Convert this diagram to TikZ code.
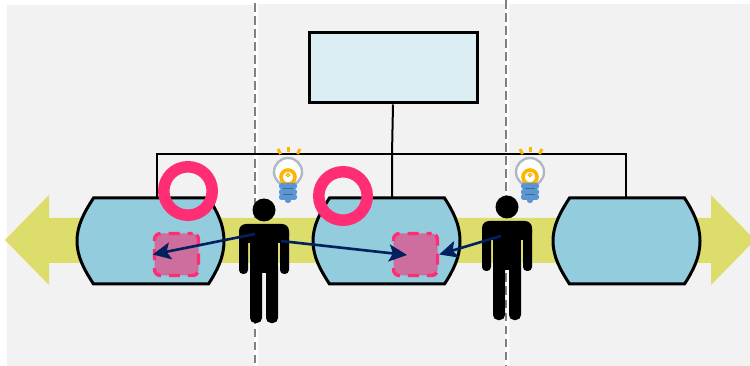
\documentclass[tikz,border=0pt]{standalone}
\usepackage{xcolor}
\usetikzlibrary{arrows.meta, positioning}
\definecolor{panelgray}{RGB}{242,242,242}
\definecolor{bandyellow}{RGB}{221,221,107}
\definecolor{stageblue}{RGB}{146,204,221}
\definecolor{rolepale}{RGB}{218,238,243}
\definecolor{ringpink}{RGB}{255,45,115}
\definecolor{taskpink}{RGB}{205,110,158}
\definecolor{navy}{RGB}{0,32,96}
\definecolor{bulbgold}{RGB}{255,180,0}
\definecolor{bulbblue}{RGB}{91,150,210}
\definecolor{bulbgray}{RGB}{175,185,195}
% stage outline: centre x, with a hidden node for the connectors
\newcommand{\stage}[2]{
  \draw[stageline] (#2-73.5,241) .. controls (#2-73.5,225) and (#2-66,212) .. (#2-57,198)
    -- (#2+58,198) .. controls (#2+67,212) and (#2+73.5,225) .. (#2+73.5,241)
    .. controls (#2+73.5,257) and (#2+67,270) .. (#2+58,284)
    -- (#2-57,284) .. controls (#2-66,270) and (#2-73.5,257) .. (#2-73.5,241) -- cycle;
  \node[hidden, minimum width=147pt, minimum height=86pt] (#1) at (#2,241) {};
}
\tikzset{
  person/.pic={
    \fill (0,-1) circle (11.5);
    \fill[rounded corners=7pt] (-25,13) rectangle (25,32);
    \fill[rounded corners=4pt] (-25,18) rectangle (-16,63);
    \fill[rounded corners=4pt] (16,18) rectangle (25,63);
    \fill (-14,14) rectangle (14,62);
    \fill[rounded corners=5pt] (-14,50) rectangle (-2,112);
    \fill[rounded corners=5pt] (2,50) rectangle (14,112);
  },
  bulb/.pic={
    \draw[bulbgray, fill=white, line width=2.4pt] (0,0) circle (14);
    \draw[bulbgold, line width=3.6pt] (0,5) circle (7);
    \draw[bulbgold, line width=1.2pt] (0,3) circle (1.8);
    \foreach \yy in {14,20,25}
      \fill[bulbblue, rounded corners=2.5pt] (-9,\yy-3) rectangle (9,\yy+3);
    \fill[bulbblue] (0,28) circle (3.2);
    \foreach \yy in {16,22}
      \draw[bulbblue!70!black, line width=0.8pt] (-5,\yy) -- (5,\yy);
    \draw[bulbgold, line width=3pt] (-10,-23) -- (-7.5,-18);
    \draw[bulbgold, line width=3pt] (0.5,-25) -- (0.5,-20);
    \draw[bulbgold, line width=3pt] (12,-23) -- (9.5,-18);
  }
}
\begin{document}
\begin{tikzpicture}[x=1pt, y=-1pt,
      hidden/.style={inner sep=0pt, outer sep=0pt},
      stageline/.style={draw=black, fill=stageblue, line width=3pt},
      rolebox/.style={draw=black, fill=rolepale, line width=3pt, inner sep=0pt,
                      minimum width=168pt, minimum height=70pt},
      taskbox/.style={draw=ringpink, fill=taskpink, line width=3.4pt, rounded corners=6pt,
                      dash pattern=on 11pt off 8pt, dash phase=6pt, inner sep=0pt,
                      minimum width=44pt, minimum height=42pt},
      ring/.style={circle, draw=ringpink, line width=11.5pt, minimum size=48.5pt, inner sep=0pt},
      ln/.style={draw=black, line width=2pt},
      ar/.style={-{Stealth[length=18pt, width=17pt, inset=4pt]}, draw=navy, line width=2.6pt}]
    \useasboundingbox (0,0) rectangle (750,366);
    % panels
    \fill[panelgray] (7,5) rectangle (254,366);
    \fill[panelgray] (258,4) rectangle (505,366);
    \fill[panelgray] (509,4) rectangle (750,366);
    \node[hidden] (top1) at (255,3) {};
    \node[hidden] (bot1) at (255,366) {};
    \node[hidden] (top2) at (506,0) {};
    \node[hidden] (bot2) at (506,366) {};
    \draw[gray, line width=2pt, dash pattern=on 8.5pt off 4.5pt] (top1) -- (bot1);
    \draw[gray, line width=2pt, dash pattern=on 8.5pt off 4.5pt] (top2) -- (bot2);
    % band
    \fill[bandyellow] (5,240) -- (49,195) -- (49,218) -- (711,218) -- (711,195)
      -- (755,240) -- (711,285) -- (711,263) -- (49,263) -- (49,285) -- cycle;
    % org lines
    \node[rolebox] (role) at (393,68) {};
    \coordinate (rail) at (392,154);
    \coordinate (s1up) at (157,198);
    \coordinate (s2up) at (392,198);
    \coordinate (s3up) at (626,198);
    \draw[ln] (role.south) -- (rail) -- (s2up);
    \draw[ln] (s1up) |- (rail) -| (s3up);
    \stage{s1}{150.5}
    \stage{s2}{386.5}
    \stage{s3}{626.5}
    \node[ring] (r1) at (188,191) {};
    \node[ring] (r2) at (343,196) {};
    \node[taskbox] (t1) at (176.5,254.5) {};
    \node[taskbox] (t2) at (415.5,254.5) {};
    \pic at (264,211) {person};
    \pic at (507,208) {person};
    \pic at (288,172) {bulb};
    \pic at (530,172) {bulb};
    \coordinate (p1a) at (255,234);
    \coordinate (p1b) at (281,241);
    \coordinate (p2a) at (501,236);
    \coordinate (t2in) at (407,255);
    \draw[ar] (p1a) -- (t1.west);
    \draw[ar] (p1b) -- (t2in);
    \draw[ar] (p2a) -- (t2.east);
  \end{tikzpicture}
\end{document}
